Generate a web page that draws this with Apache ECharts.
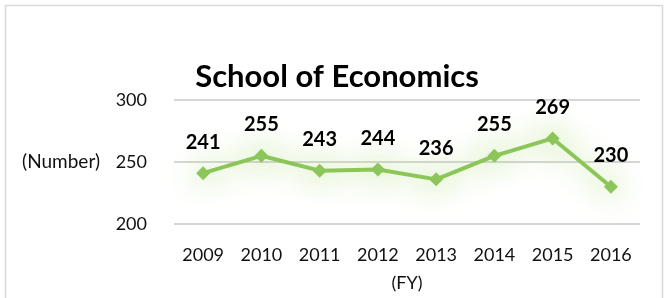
<!DOCTYPE html>
<html>
<head>
<meta charset="utf-8">
<script src="https://cdn.jsdelivr.net/npm/echarts@6/dist/echarts.min.js"></script>
<style>
  html, body { margin: 0; padding: 0; background: #fff; }
  #main { width: 669px; height: 298px; }
</style>
</head>
<body>
<div id="main"></div>
<script>
var years = ['2009', '2010', '2011', '2012', '2013', '2014', '2015', '2016'];
var students = [241, 255, 243, 244, 236, 255, 269, 230];
var yTicks = [200, 250, 300];

var myChart = echarts.init(document.getElementById('main'));

var option = {
    animation: false,
    textStyle: { fontFamily: 'Lato' },
    title: {
        text: 'School of Economics',
        left: 332,
        textAlign: 'center',
        top: 56,
        textStyle: { fontFamily: 'Lato', fontWeight: 'bold', fontSize: 31, color: '#000' }
    },
    graphic: [{
        type: 'rect',
        shape: { x: 5.5, y: 5.5, width: 657, height: 320 },
        style: { fill: 'none', stroke: '#d9d9d9', lineWidth: 1.5 },
        silent: true
    }],
    grid: { left: 174, right: 29, top: 100, bottom: 74 },
    xAxis: {
        type: 'category',
        data: years,
        name: '(FY)',
        nameLocation: 'middle',
        nameGap: 50,
        nameTextStyle: { fontSize: 18, color: '#111' },
        axisLine: { show: false },
        axisTick: { show: false },
        axisLabel: { fontSize: 18, color: '#111', margin: 22 }
    },
    yAxis: {
        type: 'value',
        min: yTicks[0],
        max: yTicks[yTicks.length - 1],
        interval: 50,
        name: '(Number)',
        nameLocation: 'middle',
        nameRotate: 0,
        nameGap: 74,
        nameTextStyle: { fontSize: 19, color: '#111', align: 'right', verticalAlign: 'middle' },
        axisLabel: { fontSize: 18, color: '#111', margin: 27 },
        splitLine: { lineStyle: { color: '#c8c8c8', width: 1.5 } }
    },
    series: [{
        type: 'line',
        data: students,
        symbol: 'diamond',
        symbolSize: 14,
        lineStyle: {
            color: '#8cc65a', width: 4,
            shadowBlur: 30, shadowColor: 'rgba(146,208,80,0.9)'
        },
        itemStyle: {
            color: '#8cc65a',
            shadowBlur: 30, shadowColor: 'rgba(146,208,80,0.9)'
        },
        label: {
            show: true,
            position: 'top',
            distance: 14,
            fontFamily: 'Lato',
            fontWeight: 'bold',
            fontSize: 20,
            color: '#000'
        }
    }]
};

myChart.setOption(option);
</script>
</body>
</html>
